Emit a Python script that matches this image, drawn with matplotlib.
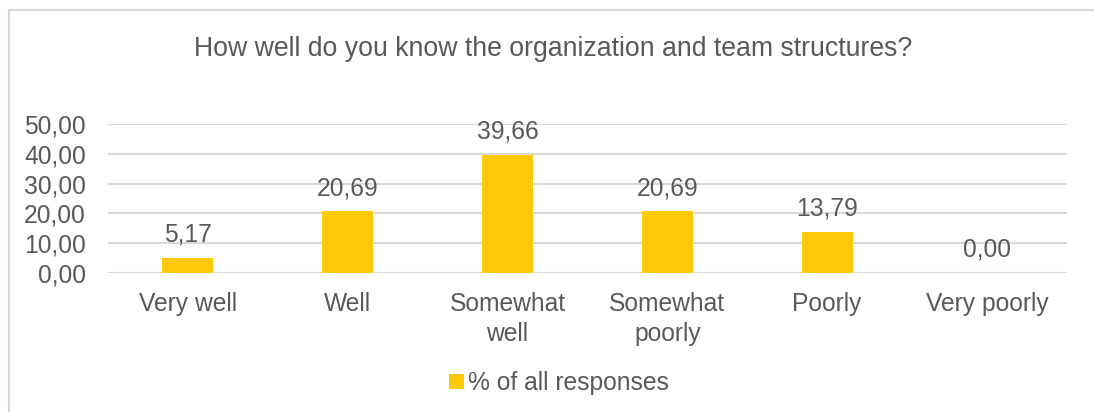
import numpy as np
import matplotlib.pyplot as plt
from matplotlib.lines import Line2D
from matplotlib.patches import Patch

categories = ["Very well", "Well", "Somewhat\nwell", "Somewhat\npoorly", "Poorly", "Very poorly"]
values = [5.17, 20.69, 39.66, 20.69, 13.79, 0.00]
y_ticks = [0, 10, 20, 30, 40, 50]
title = "How well do you know the organization and team structures?"
series_name = "% of all responses"

BAR = "#FFC90A"
TEXT = "#595959"
GRID = "#D9D9D9"
FS = 17.7

plt.rcParams['font.family'] = ['Liberation Sans', 'DejaVu Sans']


def fmt(v):
    return f"{v:.2f}".replace('.', ',')


fig = plt.figure(figsize=(10.94, 4.12), dpi=100)
ax = fig.add_axes([0.0987, 0.3374, 0.8766, 0.3617])

x = np.arange(len(categories))
ax.bar(x, values, width=0.32, color=BAR, zorder=3)

for xi, v in zip(x, values):
    ax.annotate(fmt(v), (xi, v), xytext=(0, 8), textcoords='offset points',
                ha='center', va='bottom', fontsize=FS, color=TEXT)

ax.set_xlim(-0.5, len(categories) - 0.5)
ax.set_ylim(0, 50)
ax.set_yticks(y_ticks)
ax.set_yticklabels([fmt(t) for t in y_ticks], fontsize=FS, color=TEXT)
ax.set_xticks(x)
ax.set_xticklabels(categories, fontsize=FS, color=TEXT, linespacing=1.3)
ax.tick_params(length=0, axis='y', pad=16)
ax.tick_params(length=0, axis='x', pad=14)
ax.grid(axis='y', color=GRID, linewidth=1.5, zorder=0)
for s in ax.spines.values():
    s.set_visible(False)

fig.text(0.506, 0.882, title, ha='center', va='center', fontsize=19.2, color=TEXT)

handles = [Patch(facecolor=BAR, edgecolor='none')]
fig.legend(handles, [series_name], loc='center', bbox_to_anchor=(0.511, 0.07),
           frameon=False, fontsize=FS, labelcolor=TEXT,
           handlelength=0.6, handleheight=0.6, handletextpad=0.15)

# chart frame: top and left edges
fig.add_artist(Line2D([9 / 1094, 1], [1 - 10 / 412, 1 - 10 / 412], color=GRID, linewidth=1.5))
fig.add_artist(Line2D([9 / 1094, 9 / 1094], [0, 1 - 10 / 412], color=GRID, linewidth=1.5))

fig.savefig("out.png", dpi=100)
